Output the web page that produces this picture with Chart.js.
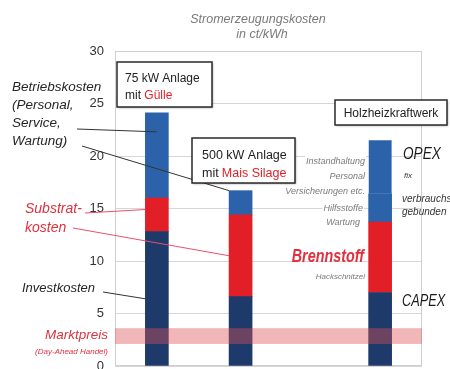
<!DOCTYPE html>
<html>
<head>
<meta charset="utf-8">
<script src="https://cdn.jsdelivr.net/npm/chart.js@4/dist/chart.umd.min.js"></script>
<style>
  html, body { margin: 0; padding: 0; background: #fff; }
  canvas { display: block; }
</style>
</head>
<body>
<canvas id="kosten" width="450" height="369"></canvas>
<script>
// three plants on the axis, empty slots keep them apart
const categories = ["", "75 kW Gülle", "", "", "500 kW Mais Silage", "", "", "", "", "Holzheizkraftwerk", ""];

// cost blocks in ct/kWh, stacked bottom to top
const investCapex = [null, 12.8, null, null, 6.6, null, null, null, null, 7.0, null];
const substratBrennstoff = [null, 3.2, null, null, 7.8, null, null, null, null, 6.7, null];
const betriebVerbrauch = [null, 8.1, null, null, 2.3, null, null, null, null, 2.7, null];
const opexFix = [null, null, null, null, null, null, null, null, null, 5.1, null];

// Marktpreis (Day-Ahead Handel), from / to in ct/kWh
const marktpreis = [2.1, 3.6];

const NAVY = "#1d3a6b";
const RED = "#e21f26";
const BLUE = "#2c62aa";
const FONT = '"Liberation Sans", Arial, sans-serif';

// opt.sx squeezes the text horizontally (condensed look)
function txt(ctx, s, x, y, size, color, opt) {
  opt = opt || {};
  const sx = opt.sx || 1;
  ctx.save();
  ctx.font = (opt.italic === false ? "" : "italic ") + (opt.bold ? "bold " : "") + size + "px " + FONT;
  ctx.fillStyle = color;
  ctx.textAlign = opt.align || "left";
  ctx.textBaseline = "alphabetic";
  if (opt.bg) {
    const w = ctx.measureText(s).width * sx;
    const x0 = opt.align === "right" ? x - w : x;
    ctx.fillStyle = "#fff";
    ctx.fillRect(x0 - 1, y - size + 1, w + 2, size + 1);
    ctx.fillStyle = color;
  }
  ctx.translate(x, y);
  ctx.scale(sx, 1);
  ctx.fillText(s, 0, 0);
  ctx.restore();
}

function box(ctx, x, y, w, h) {
  ctx.save();
  ctx.shadowColor = "rgba(0,0,0,0.35)";
  ctx.shadowBlur = 2;
  ctx.shadowOffsetX = 1;
  ctx.shadowOffsetY = 1;
  ctx.fillStyle = "#fff";
  ctx.fillRect(x, y, w, h);
  ctx.restore();
  ctx.strokeStyle = "#2a2a2a";
  ctx.lineWidth = 1.5;
  ctx.strokeRect(x, y, w, h);
}

function line(ctx, x1, y1, x2, y2, color) {
  ctx.beginPath();
  ctx.moveTo(x1, y1);
  ctx.lineTo(x2, y2);
  ctx.strokeStyle = color;
  ctx.lineWidth = 1;
  ctx.stroke();
}

// plot frame + price band over the bars
const bandPlugin = {
  id: "band",
  beforeDatasetsDraw(chart) {
    const { ctx, chartArea: a } = chart;
    ctx.save();
    ctx.strokeStyle = "#cfcfcf";
    ctx.lineWidth = 1;
    ctx.strokeRect(a.left + 0.5, a.top + 0.5, a.width - 1, a.height - 1);
    ctx.restore();
  },
  afterDatasetsDraw(chart) {
    const { ctx, chartArea: a, scales } = chart;
    const y1 = scales.y.getPixelForValue(marktpreis[1]);
    const y0 = scales.y.getPixelForValue(marktpreis[0]);
    ctx.save();
    ctx.fillStyle = "rgba(222,80,85,0.42)";
    ctx.fillRect(a.left, y1, a.width, y0 - y1);
    ctx.restore();
  }
};

// labels, leader lines and boxes
const notesPlugin = {
  id: "notes",
  afterDraw(chart) {
    const { ctx, scales } = chart;
    const y = scales.y;
    const bar = (ds, i) => chart.getDatasetMeta(ds).data[i];
    const left = (i) => bar(0, i).x - bar(0, i).width / 2;
    ctx.save();

    // title
    txt(ctx, "Stromerzeugungskosten", 258, 23, 12.5, "#7a7a7a", { align: "center" });
    txt(ctx, "in ct/kWh", 262, 38, 12.5, "#7a7a7a", { align: "center" });

    // left annotations
    ["Betriebskosten", "(Personal,", "Service,", "Wartung)"].forEach((s, k) => {
      txt(ctx, s, 12, 91 + k * 18, 13.5, "#262626");
    });
    line(ctx, 77, 129, bar(0, 1).x, y.getPixelForValue(22.3), "#333");
    line(ctx, 82, 146, left(4), bar(2, 4).y, "#333");

    txt(ctx, "Substrat-", 25, 213, 14, "#e0303e");
    txt(ctx, "kosten", 25, 232, 14, "#e0303e");
    line(ctx, 85, 213, left(1), y.getPixelForValue(14.9), "#e8506a");
    line(ctx, 73, 228, left(4), y.getPixelForValue(10.5), "#e8506a");

    txt(ctx, "Investkosten", 22, 292, 13, "#262626");
    line(ctx, 103, 292, left(1), y.getPixelForValue(6.4), "#333");

    txt(ctx, "Marktpreis", 108, 339, 13.5, "#e0303e", { align: "right" });
    txt(ctx, "(Day-Ahead Handel)", 108, 354, 8, "#e0303e", { align: "right" });

    // plant boxes
    ctx.font = "12px " + FONT;
    const mitW = ctx.measureText("mit ").width;

    box(ctx, 117, 62, 95, 45);
    txt(ctx, "75 kW Anlage", 125, 82, 12, "#222", { italic: false });
    txt(ctx, "mit ", 125, 99, 12, "#222", { italic: false });
    txt(ctx, "Gülle", 125 + mitW, 99, 12, RED, { italic: false });

    box(ctx, 192, 138, 103, 45);
    txt(ctx, "500 kW Anlage", 202, 159, 12.5, "#222", { italic: false });
    txt(ctx, "mit ", 202, 177, 12.5, "#222", { italic: false });
    txt(ctx, "Mais Silage", 202 + mitW + 0.5, 177, 12.5, RED, { italic: false });

    box(ctx, 335, 100, 112, 25);
    txt(ctx, "Holzheizkraftwerk", 391, 117, 12, "#222", { italic: false, align: "center" });

    // Holzheizkraftwerk cost breakdown
    const grey = "#7a7a7a";
    txt(ctx, "Instandhaltung", 365, 164, 9, grey, { align: "right", bg: true });
    txt(ctx, "Personal", 365, 179, 9, grey, { align: "right", bg: true });
    txt(ctx, "Versicherungen etc.", 365, 194, 9, grey, { align: "right", bg: true });
    txt(ctx, "Hilfsstoffe", 363, 211, 9, grey, { align: "right", bg: true });
    txt(ctx, "Wartung", 360, 225, 9, grey, { align: "right", bg: true });

    txt(ctx, "OPEX", 403, 159, 17, "#1a1a1a", { sx: 0.8 });
    txt(ctx, "fix", 404, 178, 8, "#333");
    txt(ctx, "verbrauchs-", 402, 202, 10, "#333");
    txt(ctx, "gebunden", 402, 215, 10, "#333");

    txt(ctx, "Brennstoff", 364, 262, 17.5, "#e0303e", { align: "right", bold: true, sx: 0.82 });
    txt(ctx, "Hackschnitzel", 365, 279, 8, grey, { align: "right" });
    txt(ctx, "CAPEX", 402, 306, 16, "#1a1a1a", { sx: 0.8 });

    ctx.restore();
  }
};

new Chart(document.getElementById("kosten"), {
  type: "bar",
  data: {
    labels: categories,
    datasets: [
      { label: "Investkosten / CAPEX", data: investCapex, backgroundColor: NAVY },
      { label: "Substratkosten / Brennstoff", data: substratBrennstoff, backgroundColor: RED },
      { label: "Betriebskosten / OPEX verbrauchsgebunden", data: betriebVerbrauch, backgroundColor: BLUE },
      {
        label: "OPEX fix",
        data: opexFix,
        backgroundColor: BLUE,
        borderColor: "#6f98cf",
        borderWidth: { top: 0, left: 0, right: 0, bottom: 1 },
        borderSkipped: false,
      },
    ],
  },
  options: {
    responsive: false,
    devicePixelRatio: 1,
    animation: false,
    layout: { padding: { top: 51, right: 28, bottom: 3, left: 0 } },
    datasets: { bar: { barThickness: 23 } },
    plugins: {
      legend: { display: false },
      tooltip: { enabled: false },
    },
    scales: {
      x: {
        stacked: true,
        display: false,
      },
      y: {
        stacked: true,
        min: 0,
        max: 30,
        afterFit(scale) {
          scale.width = 115;
          scale.paddingTop = 0;
          scale.paddingBottom = 0;
        },
        border: { display: false },
        grid: { color: "#d6d6d6", drawTicks: false },
        ticks: {
          stepSize: 5,
          padding: 11,
          color: "#333",
          font: { family: FONT, size: 13 },
        },
      },
    },
  },
  plugins: [bandPlugin, notesPlugin],
});
</script>
</body>
</html>
